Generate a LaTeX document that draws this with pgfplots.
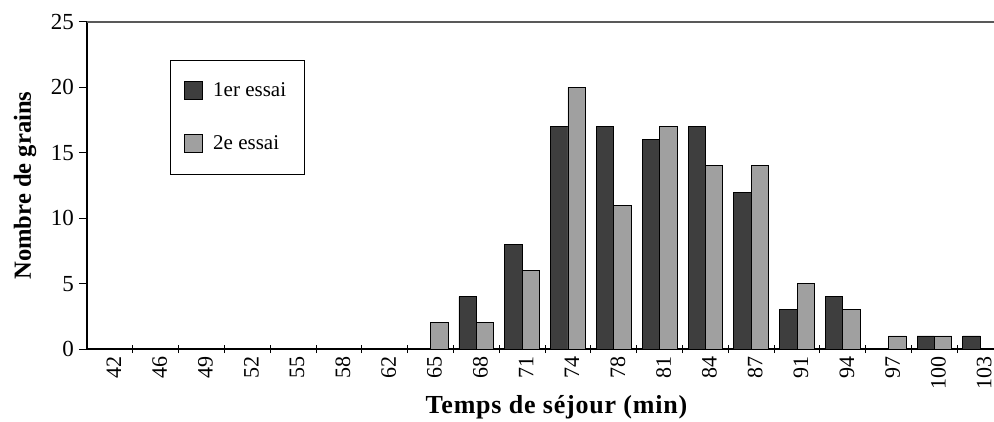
\documentclass[border=0pt]{standalone}
\usepackage{pgfplots}
\pgfplotsset{compat=1.18}
\usepackage{fontspec}
\setmainfont{Liberation Serif}
\definecolor{darkbar}{HTML}{3E3E3E}
\definecolor{lightbar}{HTML}{A0A0A0}
\begin{document}
\begin{tikzpicture}
\useasboundingbox (-43.5pt,-36.5pt) rectangle (453.5pt,174.5pt);
\begin{axis}[
  at={(0,0)}, anchor=south west, scale only axis,
  width=453.5pt, height=163.5pt,
  xmin=-0.5, xmax=19.3, ymin=0, ymax=25,
  axis x line*=bottom, axis y line*=left,
  axis line style={black, line width=0.6pt, -},
  /pgf/number format/assume math mode=true,
  tick label style={font=\fontsize{11}{13}\selectfont},
  tick align=center,
  xtick={0.5,1.5,...,18.5},
  xticklabels={},
  tick style={black, line width=0.5pt},
  major tick length=4pt,
  extra x ticks={0,1,...,19},
  extra x tick labels={42,46,49,52,55,58,62,65,68,71,74,78,81,84,87,91,94,97,100,103},
  extra x tick style={major tick length=0pt, tick style={draw=none}},
  xticklabel style={rotate=90, anchor=east, yshift=-2pt},
  ytick={0,5,...,25},
  y tick style={xshift=-2pt},
  yticklabel style={xshift=-1pt, font=\fontsize{11.5}{13}\selectfont},
  xlabel={\textbf{Temps de séjour (min)}},
  ylabel={\textbf{Nombre de grains}},
  every axis x label/.style={at={(rel axis cs:0.518,0)}, yshift=-29pt, anchor=center, font=\fontsize{13}{15}\selectfont\addfontfeatures{LetterSpace=3}},
  every axis y label/.style={at={(rel axis cs:0,0.5)}, xshift=-31pt, rotate=90, anchor=center, font=\fontsize{12.3}{14}\selectfont},
  legend style={at={(rel axis cs:0.0915,0.884)}, anchor=north west, draw=black, line width=0.4pt,
    inner xsep=7pt, inner ysep=9pt, row sep=14pt, font=\fontsize{10.5}{12}\selectfont,
    cells={anchor=west},
    /tikz/every odd column/.append style={column sep=3pt}},
  legend image code/.code={\draw[#1, line width=0.4pt] (0pt,-4.5pt) rectangle (9pt,4.5pt);},
]
\addplot[ybar, bar width=0.38, bar shift=-0.19, fill=darkbar, draw=black, line width=0.4pt]
  coordinates {(8,4) (9,8) (10,17) (11,17) (12,16) (13,17) (14,12) (15,3) (16,4) (18,1) (19,1)};
\addplot[ybar, bar width=0.38, bar shift=0.19, fill=lightbar, draw=black, line width=0.4pt]
  coordinates {(7,2) (8,2) (9,6) (10,20) (11,11) (12,17) (13,14) (14,14) (15,5) (16,3) (17,1) (18,1)};
\legend{1er essai, 2e essai}
\draw[black!65, line width=0.7pt] (rel axis cs:0,1) -- (rel axis cs:1,1);
\end{axis}
\end{tikzpicture}
\end{document}
